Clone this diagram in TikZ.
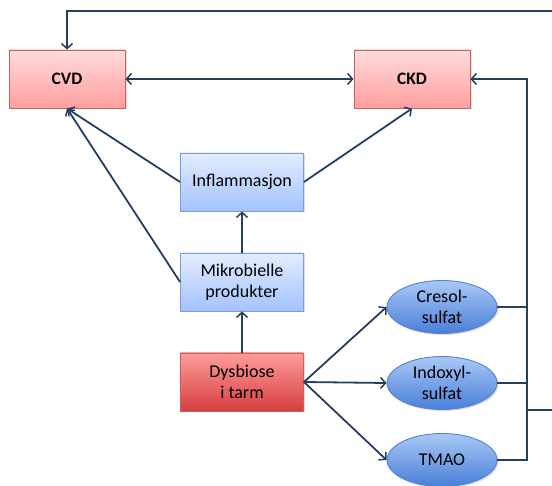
\documentclass[tikz,border=0pt]{standalone}
\usepackage{fontspec}
\setmainfont{Carlito}
\usetikzlibrary{arrows.meta,shapes.geometric,shadows}

\definecolor{linecol}{HTML}{243F60}
\definecolor{redtop}{HTML}{FFDCDC}
\definecolor{redbot}{HTML}{FF9E9E}
\definecolor{redline}{HTML}{C9605C}
\definecolor{dredtop}{HTML}{FF9C9C}
\definecolor{dredbot}{HTML}{D63F3F}
\definecolor{bluetop}{HTML}{E3EDFF}
\definecolor{bluebot}{HTML}{A4C2FD}
\definecolor{blueline}{HTML}{7D9DD0}
\definecolor{elltop}{HTML}{A9C8F6}
\definecolor{ellbot}{HTML}{4A7FD8}
\definecolor{ellline}{HTML}{5485CC}

\tikzset{
  base/.style={font=\fontsize{18}{21}\selectfont, align=center, inner sep=0pt,
    drop shadow={shadow xshift=1.5pt, shadow yshift=-1.5pt, opacity=0.25}},
  redbox/.style={base, rectangle, draw=redline, line width=0.9pt,
    top color=redtop, bottom color=redbot, minimum width=116pt, minimum height=58pt,
    font=\fontsize{17.5}{20}\selectfont\bfseries},
  dredbox/.style={base, rectangle, draw=redline, line width=0.9pt,
    top color=dredtop, bottom color=dredbot, minimum width=123pt, minimum height=58pt},
  bluebox/.style={base, rectangle, draw=blueline, line width=0.9pt,
    top color=bluetop, bottom color=bluebot, minimum width=123pt, minimum height=58pt},
  toxin/.style={base, ellipse, draw=ellline, line width=0.9pt,
    top color=elltop, bottom color=ellbot, minimum width=110pt, minimum height=53pt},
  conn/.style={draw=linecol, line width=1.8pt},
  arr/.style={conn, -{Straight Barb[length=5pt,width=11pt,line width=1.5pt]}},
  darr/.style={conn, {Straight Barb[length=5pt,width=11pt,line width=1.5pt]}-{Straight Barb[length=5pt,width=11pt,line width=1.5pt]}}
}

\begin{document}
\begin{tikzpicture}[x=1pt,y=-1pt]
  \useasboundingbox (0,0) rectangle (552,486);

  % boxes
  \node[redbox] (cvd) at (67,79) {CVD};
  \node[redbox] (ckd) at (412,79) {CKD};
  \node[bluebox] (inflam) at (242,182) {Inflammasjon};
  \node[bluebox] (mikro) at (242,282) {Mikrobielle\\produkter};
  \node[dredbox] (dysbiose) at (242,382) {Dysbiose\\i tarm};
  \node[toxin] (cresol) at (442,307) {Cresol-\\sulfat};
  \node[toxin] (indoxyl) at (442,383) {Indoxyl-\\sulfat};
  \node[toxin] (tmao) at (442,460) {TMAO};

  % bus on the right
  \coordinate (bus) at (527,79);
  \coordinate (bend) at (558,410);
  \coordinate (top) at (558,11);

  % connectors
  \draw[darr] (cvd.east) -- (ckd.west);
  \draw[arr] (inflam.west) -- (cvd.south);
  \draw[arr] (mikro.west) -- (cvd.south);
  \draw[arr] (inflam.east) -- (ckd.south);
  \draw[arr] (mikro.north) -- (inflam.south);
  \draw[arr] (dysbiose.north) -- (mikro.south);
  \draw[arr] (dysbiose.east) -- (cresol.west);
  \draw[arr] (dysbiose.east) -- (indoxyl.west);
  \draw[arr] (dysbiose.east) -- (tmao.west);
  \draw[arr] (tmao.east) -| (bus) -- (ckd.east);
  \draw[conn] (cresol.east) -- (cresol.east -| bus);
  \draw[conn] (indoxyl.east) -- (indoxyl.east -| bus);
  \draw[arr] (bus |- bend) -- (bend) -- (top) -| (cvd.north);
\end{tikzpicture}
\end{document}
